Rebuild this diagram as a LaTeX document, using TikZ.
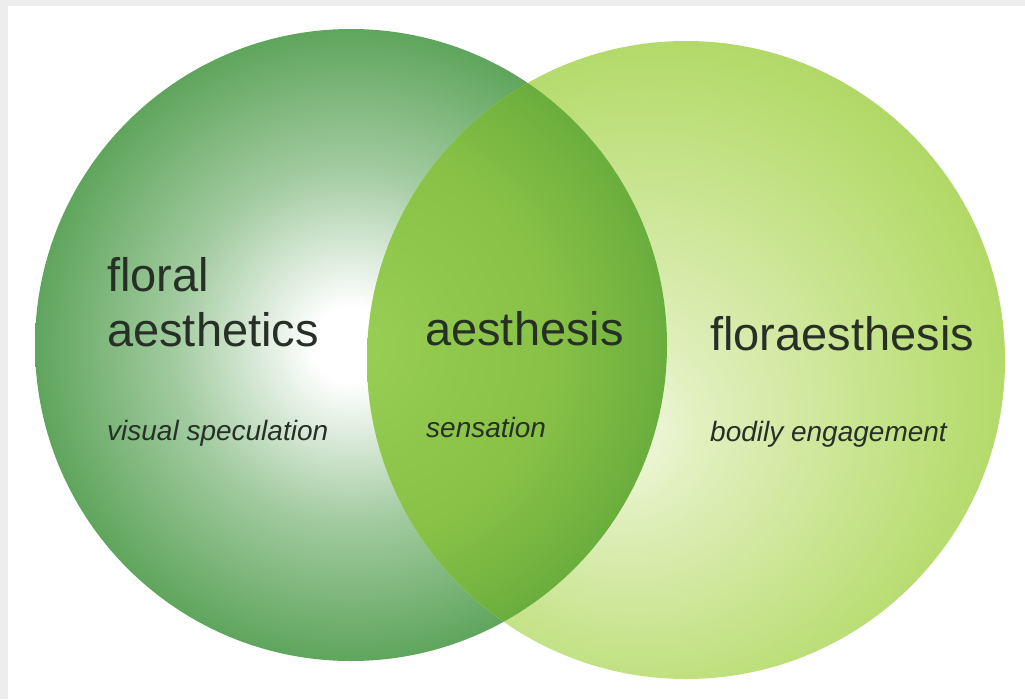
\documentclass[tikz,border=0pt]{standalone}
\usepackage{fontspec}
\setmainfont{Liberation Sans}
\usetikzlibrary{shadings}
\definecolor{txt}{HTML}{263026}
\definecolor{bandgray}{HTML}{EDEDED}
\definecolor{lA}{HTML}{A2CBA0}
\definecolor{lB}{HTML}{5FA55C}
\definecolor{lC}{HTML}{3A8B3A}
\definecolor{rA}{HTML}{F4F9E6}
\definecolor{rB}{HTML}{E0EFBC}
\definecolor{rC}{HTML}{BDDF7A}
\definecolor{rD}{HTML}{A2D04E}
\definecolor{oA}{HTML}{96CD52}
\definecolor{oB}{HTML}{88C146}
\definecolor{oC}{HTML}{6EB03E}
\definecolor{oD}{HTML}{4A9A38}
\definecolor{oE}{HTML}{439334}
\pgfdeclareradialshading{leftsh}{\pgfpoint{0bp}{0bp}}{color(0bp)=(white); color(3bp)=(white); color(14bp)=(lA); color(25bp)=(lB); color(35.4bp)=(lC); color(50bp)=(lC)}
\pgfdeclareradialshading{rightsh}{\pgfpoint{-6bp}{-6bp}}{color(0bp)=(rA); color(7bp)=(rB); color(23bp)=(rC); color(35.4bp)=(rD); color(50bp)=(rD)}
\pgfdeclareradialshading{overlapsh}{\pgfpoint{0bp}{0bp}}{color(0bp)=(oA); color(2bp)=(oA); color(16bp)=(oB); color(24bp)=(oC); color(32bp)=(oD); color(35.4bp)=(oE); color(50bp)=(oE)}
\tikzset{
  big/.style={font=\fontsize{47}{50}\selectfont, text=txt, inner sep=0pt, anchor=base west},
  small/.style={font=\fontsize{28}{30}\selectfont\itshape, text=txt, inner sep=0pt, anchor=base west}
}
\begin{document}
\begin{tikzpicture}[x=1pt,y=-1pt]
\useasboundingbox (0,0) rectangle (1025,699);
\fill[bandgray] (0,0) rectangle (1025,699);
\fill[white] (8,6) rectangle (1025,699);
\path[shading=leftsh] (351,345) circle[radius=316pt];
\path[shading=rightsh] (686,360) circle[radius=319pt];
\begin{scope}
\clip (686,360) circle[radius=319pt];
\path[shading=overlapsh] (351,345) circle[radius=316pt];
\end{scope}
\node[big] (floral) at (107,291) {floral};
\node[big] (aesthetics) at (107,346) {aesthetics};
\node[small] (visual) at (107,440) {visual speculation};
\node[big] (aesthesis) at (425,345) {aesthesis};
\node[small] (sensation) at (426,437) {sensation};
\node[big] (floraesthesis) at (710,350) {floraesthesis};
\node[small] (bodily) at (710,441) {bodily engagement};
\end{tikzpicture}
\end{document}
